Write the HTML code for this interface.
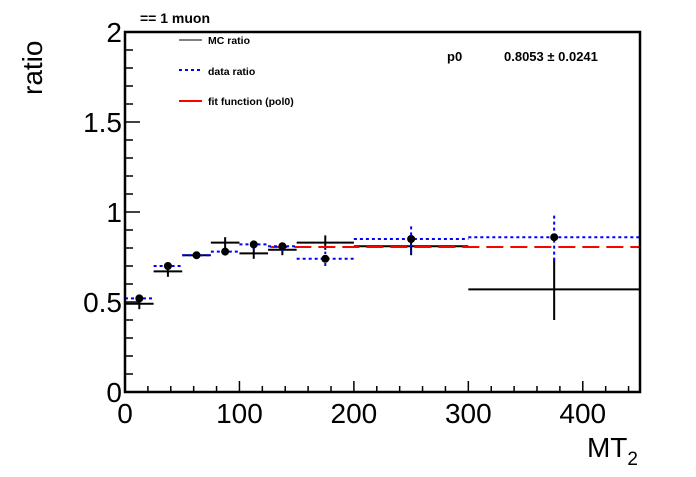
<!DOCTYPE html>
<html><head><meta charset="utf-8"><style>
body{margin:0;background:#fff;}
svg text{font-family:"Liberation Sans",sans-serif;}
</style></head><body>
<svg width="696" height="472" viewBox="0 0 696 472">
<rect width="696" height="472" fill="#fff"/>
<g id="marks"></g>
<rect x="125" y="32" width="515" height="360" fill="none" stroke="#000" stroke-width="2.5"/>
<g id="axes"></g>
<text x="140" y="23" font-size="14" font-weight="bold">== 1 muon</text>
<text x="42" y="95" font-size="28" transform="rotate(-90 42 95)" text-anchor="start">ratio</text>
<text x="638" y="457" font-size="28" text-anchor="end">MT<tspan font-size="19" dy="8">2</tspan></text>
<g>
<line x1="179" y1="40" x2="202" y2="40" stroke="#000" stroke-width="1"/>
<text x="208" y="44" font-size="10.5" font-weight="bold">MC ratio</text>
<line x1="179" y1="70" x2="202" y2="70" stroke="#00f" stroke-width="2" stroke-dasharray="3,3"/>
<text x="208" y="75" font-size="10.5" font-weight="bold">data ratio</text>
<line x1="179" y1="101" x2="202" y2="101" stroke="#f00" stroke-width="2"/>
<text x="208" y="105" font-size="10.5" font-weight="bold">fit function (pol0)</text>
</g>
<text x="447" y="61" font-size="13" font-weight="bold">p0</text>
<text x="504" y="61" font-size="13" font-weight="bold">0.8053 ± 0.0241</text>
</svg>
<script>
const binLo=[0,25,50,75,100,125,150,200,300];
const binHi=[25,50,75,100,125,150,200,300,450];
const mcVals=[0.49,0.67,0.76,0.83,0.77,0.79,0.83,0.81,0.57];
const mcErr=[0.03,0.03,0.02,0.03,0.03,0.03,0.04,0.05,0.17];
const dataVals=[0.52,0.70,0.76,0.78,0.82,0.81,0.74,0.85,0.86];
const dataErr=[0.02,0.02,0.02,0.02,0.03,0.03,0.04,0.08,0.13];
const fitVal=[0.8053];
const fitRange=[127,450];
const xTicks=[0,100,200,300,400];
const yTicks=[0,0.5,1,1.5,2];
const X=v=>125+v*(515/450), Y=v=>392-v*180;
const NS='http://www.w3.org/2000/svg';
function mk(t,a,p){const e=document.createElementNS(NS,t);for(const k in a)e.setAttribute(k,a[k]);p.appendChild(e);return e;}
const m=document.getElementById('marks'),ax=document.getElementById('axes');
for(let i=0;i<binLo.length;i++){
 const c=(binLo[i]+binHi[i])/2;
 let g=mk('g',{},m);
 
 
 mk('line',{x1:X(binLo[i]),x2:X(binHi[i]),y1:Y(mcVals[i]),y2:Y(mcVals[i]),stroke:'#000','stroke-width':2},g);
 mk('line',{x1:X(c),x2:X(c),y1:Y(mcVals[i]-mcErr[i]),y2:Y(mcVals[i]+mcErr[i]),stroke:'#000','stroke-width':2},g);
}
let f=mk('line',{x1:X(fitRange[0]),x2:X(fitRange[1]),y1:Y(fitVal[0]),y2:Y(fitVal[0]),stroke:'#f00','stroke-width':2,'stroke-dasharray':'17,7'},m);


for(let i=0;i<binLo.length;i++){
 const c=(binLo[i]+binHi[i])/2;
 let g=mk('g',{},m);
 
 
 mk('line',{x1:X(binLo[i]),x2:X(binHi[i]),y1:Y(dataVals[i]),y2:Y(dataVals[i]),stroke:'#00f','stroke-width':2,'stroke-dasharray':'3,3'},g);
 mk('line',{x1:X(c),x2:X(c),y1:Y(dataVals[i]-dataErr[i]),y2:Y(dataVals[i]+dataErr[i]),stroke:'#00f','stroke-width':2,'stroke-dasharray':'3,3'},g);
 mk('circle',{cx:X(c),cy:Y(dataVals[i]),r:4,fill:'#000'},g);
}
for(let v=0;v<=450;v+=20){mk('line',{x1:X(v),x2:X(v),y1:392,y2:v%100==0?381:386,stroke:'#000','stroke-width':1.5},ax);}
for(let v=0;v<=2.001;v+=0.1){const mj=Math.abs(v*2-Math.round(v*2))<1e-6;mk('line',{x1:125,x2:mj?140:133,y1:Y(v),y2:Y(v),stroke:'#000','stroke-width':1.5},ax);}
xTicks.forEach(v=>{let t=mk('text',{x:X(v),y:423,'font-size':28,'text-anchor':'middle'},ax);t.textContent=v;});
yTicks.forEach(v=>{let t=mk('text',{x:122,y:Y(v)+10,'font-size':28,'text-anchor':'end'},ax);t.textContent=v;});
</script>
</body></html>
